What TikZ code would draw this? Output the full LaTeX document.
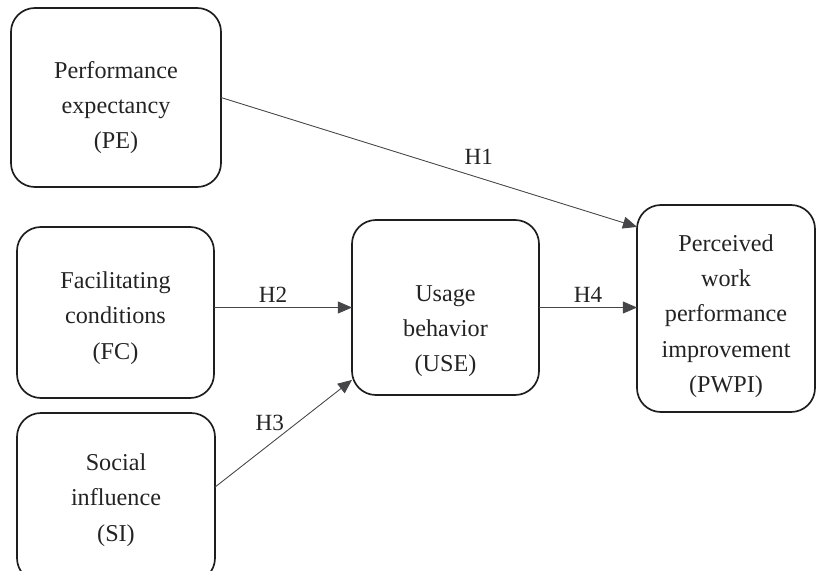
\documentclass[tikz,border=0pt]{standalone}
\usepackage{fontspec}
\setmainfont{Liberation Serif}
\usepackage{xcolor}
\usepackage{tikz}
\usetikzlibrary{arrows.meta, positioning, calc}
\definecolor{boxcolor}{RGB}{30,30,30}
\definecolor{linkcolor}{RGB}{70,70,72}
\definecolor{textcolor}{RGB}{35,35,35}
\tikzset{
  construct/.style={draw=boxcolor, rounded corners=17pt, line width=1.2pt,
                    inner sep=0pt, outer sep=0pt},
  caption/.style={align=center, inner sep=0pt, text=textcolor,
                  font=\fontsize{17.2}{25.2}\selectfont},
  path/.style={-{Triangle[length=10pt, width=8.5pt]}, line width=0.6pt,
               draw=linkcolor, fill=linkcolor},
  hyp/.style={font=\fontsize{16.5}{20}\selectfont, text=textcolor,
              fill=none},
}

\begin{document}
\begin{tikzpicture}

  \useasboundingbox (0,0) rectangle (20.4,-14.25);

  % --- Antecedents ---
  \node[construct, minimum width=5.25cm, minimum height=4.475cm,
        label={[caption, yshift=-0.25cm]center:{Performance\\expectancy\\(PE)}}]
    (pe) at (2.9,-2.4375) {};
  \node[construct, minimum width=4.925cm, minimum height=4.275cm,
        label={[caption, yshift=-0.14cm]center:{Facilitating\\conditions\\(FC)}}]
    (fc) at (2.8875,-7.8125) {};
  \node[construct, minimum width=4.95cm, minimum height=4.225cm,
        label={[caption, yshift=-0.06cm]center:{Social\\influence\\(SI)}}]
    (si) at (2.9,-12.4375) {};

  % --- Mediator ---
  \node[construct, minimum width=4.675cm, minimum height=4.375cm,
        label={[caption, yshift=-0.59cm]center:{Usage\\behavior\\(USE)}}]
    (use) at (11.1375,-7.6875) {};

  % --- Outcome ---
  \node[construct, minimum width=4.45cm, minimum height=5.175cm,
        label={[caption, yshift=-0.19cm]center:{Perceived\\work\\performance\\improvement\\(PWPI)}}]
    (pwpi) at (18.15,-7.7125) {};

  % --- Hypotheses ---
  \draw[path] (pe.east) -- node[hyp, pos=0.62, yshift=0.53cm] {H1}
    ([yshift=2.04cm]pwpi.west);
  \draw[path] (use.west -| fc.east) -- node[hyp, midway, above, xshift=-0.25cm] {H2}
    (use.west);
  \draw[path] ([yshift=0.26cm]si.east) -- node[hyp, pos=0.4, yshift=0.53cm] {H3}
    ([yshift=-1.81cm]use.west);
  \draw[path] (use.east) -- node[hyp, midway, above] {H4}
    (use.east -| pwpi.west);

\end{tikzpicture}
\end{document}
